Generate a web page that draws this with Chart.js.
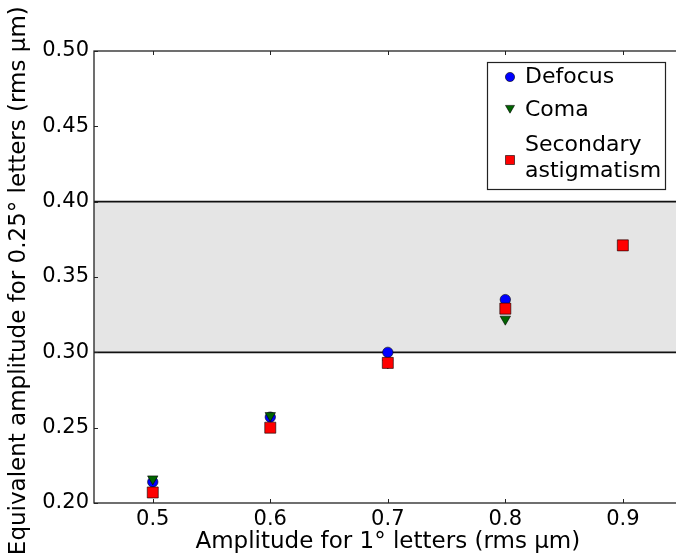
<!DOCTYPE html>
<html>
<head>
<meta charset="utf-8">
<script src="https://cdn.jsdelivr.net/npm/chart.js@4/dist/chart.umd.min.js"></script>
<style>
  html, body { margin: 0; padding: 0; background: #fff; overflow: hidden; }
  #wrap { position: absolute; left: 0; top: 0; width: 690px; height: 559px; }
</style>
</head>
<body>
<div id="wrap"><canvas id="chart" width="690" height="559"></canvas></div>
<script>
// data
const amplitudes = [0.5, 0.6, 0.7, 0.8, 0.9];
const defocus = [0.214, 0.257, 0.300, 0.335, null];
const coma = [0.216, 0.258, 0.293, 0.322, null];
const secondaryAstig = [0.207, 0.250, 0.293, 0.329, 0.371];

const xTicks = [0.5, 0.6, 0.7, 0.8, 0.9];
const yTicks = [0.20, 0.25, 0.30, 0.35, 0.40, 0.45, 0.50];
const bandRange = [0.30, 0.40];
const legendLabels = [['Defocus'], ['Coma'], ['Secondary', 'astigmatism']];

const FONT = "'DejaVu Sans', 'Bitstream Vera Sans', sans-serif";

function toPoints(ys) {
    return amplitudes.map((x, i) => ({ x: x, y: ys[i] })).filter(p => p.y !== null);
}

const series = [
    { label: 'Defocus', values: defocus, color: '#0000ff', style: 'circle', radius: 5.2, rotation: 0, order: 3 },
    { label: 'Coma', values: coma, color: '#006400', style: 'triangle', radius: 6, rotation: 180, order: 2 },
    { label: 'Secondary astigmatism', values: secondaryAstig, color: '#ff0000', style: 'rect', radius: 7.8, rotation: 0, order: 1 }
];

// gray band + black lines at its edges
const bandPlugin = {
    id: 'band',
    beforeDatasetsDraw(chart) {
        const { ctx, chartArea, scales } = chart;
        const yTop = scales.y.getPixelForValue(bandRange[1]);
        const yBot = scales.y.getPixelForValue(bandRange[0]);
        ctx.save();
        ctx.fillStyle = '#e5e5e5';
        ctx.fillRect(chartArea.left, yTop, chartArea.right - chartArea.left, yBot - yTop);
        ctx.strokeStyle = '#111';
        ctx.lineWidth = 1.6;
        [yTop, yBot].forEach(y => {
            ctx.beginPath();
            ctx.moveTo(chartArea.left, y);
            ctx.lineTo(chartArea.right, y);
            ctx.stroke();
        });
        ctx.restore();
    }
};

// frame with inward ticks on all four sides, matplotlib style
const framePlugin = {
    id: 'frame',
    afterDatasetsDraw(chart) {
        const { ctx, chartArea, scales } = chart;
        const { left, right, top, bottom } = chartArea;
        const len = 4;
        ctx.save();
        ctx.strokeStyle = '#222';
        ctx.lineWidth = 1.3;
        ctx.strokeRect(left, top, right - left, bottom - top);
        ctx.lineWidth = 1;
        ctx.beginPath();
        xTicks.forEach(v => {
            const x = Math.round(scales.x.getPixelForValue(v)) + 0.5;
            ctx.moveTo(x, bottom); ctx.lineTo(x, bottom - len);
            ctx.moveTo(x, top); ctx.lineTo(x, top + len);
        });
        yTicks.forEach(v => {
            const y = Math.round(scales.y.getPixelForValue(v)) + 0.5;
            ctx.moveTo(left, y); ctx.lineTo(left + len, y);
            ctx.moveTo(right, y); ctx.lineTo(right - len, y);
        });
        ctx.stroke();
        ctx.restore();
    }
};

function drawMarker(ctx, s, x, y, r) {
    ctx.save();
    ctx.fillStyle = s.color;
    ctx.strokeStyle = '#000';
    ctx.lineWidth = 0.6;
    ctx.beginPath();
    if (s.style === 'circle') {
        ctx.arc(x, y, r, 0, Math.PI * 2);
    } else if (s.style === 'triangle') {
        ctx.moveTo(x, y + r);
        ctx.lineTo(x - r * 0.866, y - r * 0.5);
        ctx.lineTo(x + r * 0.866, y - r * 0.5);
        ctx.closePath();
    } else {
        ctx.rect(x - r, y - r, 2 * r, 2 * r);
    }
    ctx.fill();
    ctx.stroke();
    ctx.restore();
}

const legendPlugin = {
    id: 'boxLegend',
    afterDraw(chart) {
        const ctx = chart.ctx;
        const box = { x: 487, y: 62, w: 178, h: 127 };
        ctx.save();
        ctx.fillStyle = '#fff';
        ctx.fillRect(box.x, box.y, box.w, box.h);
        ctx.strokeStyle = '#222';
        ctx.lineWidth = 1.2;
        ctx.strokeRect(box.x + 0.5, box.y + 0.5, box.w, box.h);
        const rows = [[77], [110], [145, 171]];
        const markerY = [77, 108, 160];
        const markerR = [4.6, 5.2, 4.5];
        ctx.font = '22px ' + FONT;
        ctx.fillStyle = '#000';
        ctx.textBaseline = 'middle';
        series.forEach((s, i) => {
            drawMarker(ctx, s, 510, markerY[i], markerR[i]);
            legendLabels[i].forEach((line, j) => {
                ctx.fillText(line, 525, rows[i][j]);
            });
        });
        ctx.restore();
    }
};

new Chart(document.getElementById('chart'), {
    type: 'scatter',
    data: {
        datasets: series.map(s => ({
            label: s.label,
            data: toPoints(s.values),
            backgroundColor: s.color,
            borderColor: '#000',
            borderWidth: 0.6,
            pointStyle: s.style,
            pointRadius: s.radius,
            pointHoverRadius: s.radius,
            rotation: s.rotation,
            order: s.order
        }))
    },
    options: {
        responsive: false,
        animation: false,
        layout: { padding: { top: 51, right: 8, left: 0, bottom: 0 } },
        plugins: {
            legend: { display: false },
            tooltip: { enabled: false }
        },
        scales: {
            x: {
                type: 'linear',
                min: 0.45,
                max: 0.95,
                afterBuildTicks: scale => { scale.ticks = xTicks.map(v => ({ value: v })); },
                afterFit: scale => { scale.height = 56; },
                grid: { display: false, drawTicks: false },
                border: { display: false },
                ticks: {
                    color: '#000',
                    padding: 4,
                    font: { family: FONT, size: 21 },
                    callback: v => v.toFixed(1)
                },
                title: {
                    display: true,
                    text: 'Amplitude for 1° letters (rms μm)',
                    color: '#000',
                    font: { family: FONT, size: 23, lineHeight: 1 },
                    padding: { top: 0, bottom: 5 }
                }
            },
            y: {
                type: 'linear',
                min: 0.2,
                max: 0.5,
                afterBuildTicks: scale => { scale.ticks = yTicks.map(v => ({ value: v })); },
                afterFit: scale => { scale.width = 94; },
                grid: { display: false, drawTicks: false },
                border: { display: false },
                ticks: {
                    color: '#000',
                    padding: 5,
                    font: { family: FONT, size: 21 },
                    callback: v => v.toFixed(2)
                },
                title: {
                    display: true,
                    text: 'Equivalent amplitude for 0.25° letters (rms μm) ',
                    color: '#000',
                    font: { family: FONT, size: 23, lineHeight: 1 },
                    padding: { top: 8, bottom: 0 }
                }
            }
        }
    },
    plugins: [bandPlugin, framePlugin, legendPlugin]
});
</script>
</body>
</html>
